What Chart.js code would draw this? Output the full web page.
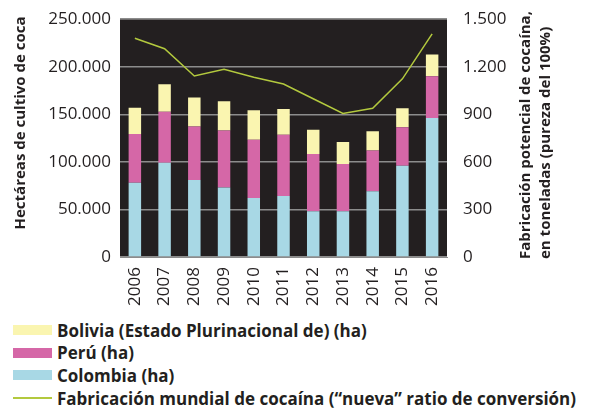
<!DOCTYPE html>
<html>
<head>
<meta charset="utf-8">
<script src="https://cdn.jsdelivr.net/npm/chart.js@4"></script>
<style>
  body { margin: 0; background: #fff; font-family: 'Open Sans', sans-serif; }
  #wrap { position: relative; width: 589px; height: 410px; }
  #chartBox { position: absolute; left: 0; top: 0; width: 589px; height: 318px; }
  .legend { position: absolute; left: 13px; top: 319px; }
  .item { display: flex; align-items: center; height: 22.6px; font-weight: bold; font-size: 17px; color: #231f20; white-space: nowrap; }
  .sw { width: 39px; height: 10px; margin-right: 5px; flex: none; }
  .ln { width: 39px; height: 1.5px; margin-right: 5px; flex: none; }
</style>
</head>
<body>
<div id="wrap">
  <div id="chartBox"><canvas id="cocaChart"></canvas></div>
  <div class="legend" id="legend"></div>
</div>
<script>
// Data
const years = ['2006', '2007', '2008', '2009', '2010', '2011', '2012', '2013', '2014', '2015', '2016'];
const colombia = [78000, 99000, 81000, 73000, 62000, 64000, 48000, 48000, 69000, 96000, 146000];
const peru = [51400, 53700, 56100, 59900, 61200, 64400, 60400, 49800, 42900, 40300, 43900];
const bolivia = [27500, 28900, 30500, 30900, 31000, 27200, 25300, 23000, 20400, 20200, 23100];
const fabricacion = [1380, 1314, 1142, 1184, 1134, 1091, 998, 905, 938, 1124, 1407];

const leftTicks = [0, 50000, 100000, 150000, 200000, 250000];
const rightTicks = [0, 300, 600, 900, 1200, 1500];

const colors = {
  colombia: '#a8d8e5',
  peru: '#d567a7',
  bolivia: '#faf5b0',
  line: '#b3c93e',
  plot: '#231f20',
  grid: '#8c8c8c',
};

const fmt = (v) => String(v).replace(/\B(?=(\d{3})+(?!\d))/g, '.');

// Legend as plain HTML
const legendItems = [
  { label: 'Bolivia (Estado Plurinacional de) (ha)', color: colors.bolivia, type: 'box' },
  { label: 'Perú (ha)', color: colors.peru, type: 'box' },
  { label: 'Colombia (ha)', color: colors.colombia, type: 'box' },
  { label: 'Fabricación mundial de cocaína (“nueva” ratio de conversión)', color: colors.line, type: 'line' },
];
const legendEl = document.getElementById('legend');
legendItems.forEach((it) => {
  const row = document.createElement('div');
  row.className = 'item';
  const sw = document.createElement('span');
  sw.className = it.type === 'box' ? 'sw' : 'ln';
  sw.style.background = it.color;
  row.appendChild(sw);
  row.appendChild(document.createTextNode(it.label));
  legendEl.appendChild(row);
});

// Dark plot background + rotated axis titles
const plotDecor = {
  id: 'plotDecor',
  beforeDraw(chart) {
    const { ctx, chartArea: a } = chart;
    ctx.save();
    ctx.fillStyle = colors.plot;
    ctx.fillRect(a.left, a.top, a.right - a.left, a.bottom - a.top);
    ctx.restore();
  },
  afterDraw(chart) {
    const { ctx } = chart;
    ctx.save();
    ctx.fillStyle = '#231f20';
    ctx.font = 'bold 15px "Open Sans"';
    ctx.textBaseline = 'middle';
    // left title
    ctx.translate(21, 123);
    ctx.rotate(-Math.PI / 2);
    ctx.textAlign = 'center';
    ctx.fillText('Hectáreas de cultivo de coca', 0, 0);
    ctx.restore();
    // right titles, anchored at bottom
    ctx.save();
    ctx.fillStyle = '#231f20';
    ctx.font = 'bold 15px "Open Sans"';
    ctx.textBaseline = 'middle';
    ctx.textAlign = 'left';
    ctx.translate(526, 259);
    ctx.rotate(-Math.PI / 2);
    ctx.fillText('Fabricación potencial de cocaína,', 0, 0);
    ctx.fillText('en toneladas (pureza del 100%)', 0, 20);
    ctx.restore();
  },
};

const tickFont = { family: 'Open Sans', size: 17 };

const ctx = document.getElementById('cocaChart').getContext('2d');
const chart = new Chart(ctx, {
  type: 'bar',
  data: {
    labels: years,
    datasets: [
      {
        type: 'line',
        label: 'Fabricación mundial de cocaína',
        data: fabricacion,
        yAxisID: 'y1',
        borderColor: colors.line,
        borderWidth: 1.5,
        pointRadius: 0,
        tension: 0,
        order: 0,
      },
      { label: 'Colombia (ha)', data: colombia, backgroundColor: colors.colombia, stack: 's', order: 1 },
      { label: 'Perú (ha)', data: peru, backgroundColor: colors.peru, stack: 's', order: 1 },
      { label: 'Bolivia (ha)', data: bolivia, backgroundColor: colors.bolivia, stack: 's', order: 1 },
    ],
  },
  options: {
    responsive: true,
    maintainAspectRatio: false,
    animation: false,
    layout: { padding: { top: 15, left: 0, right: 0, bottom: 0 } },
    datasets: { bar: { barPercentage: 0.42, categoryPercentage: 1 } },
    plugins: { legend: { display: false }, tooltip: { enabled: false } },
    scales: {
      x: {
        stacked: true,
        grid: { display: false },
        border: { color: '#8c8c8c' },
        ticks: { color: '#231f20', font: tickFont, minRotation: 90, maxRotation: 90, padding: 2 },
        afterFit: (s) => { s.height = 61; },
      },
      y: {
        stacked: true,
        min: 0,
        max: 250000,
        afterBuildTicks: (s) => { s.ticks = leftTicks.map((v) => ({ value: v })); },
        grid: { color: colors.grid, lineWidth: 1.5, drawTicks: false },
        border: { display: false },
        ticks: { color: '#231f20', font: tickFont, padding: 9, callback: (v) => fmt(v) },
        afterFit: (s) => { s.width = 120; },
      },
      y1: {
        position: 'right',
        min: 0,
        max: 1500,
        afterBuildTicks: (s) => { s.ticks = rightTicks.map((v) => ({ value: v })); },
        grid: { display: false },
        border: { display: false },
        ticks: { color: '#231f20', font: tickFont, padding: 8, callback: (v) => fmt(v) },
        afterFit: (s) => { s.width = 142; },
      },
    },
  },
  plugins: [plotDecor],
});
</script>
</body>
</html>
